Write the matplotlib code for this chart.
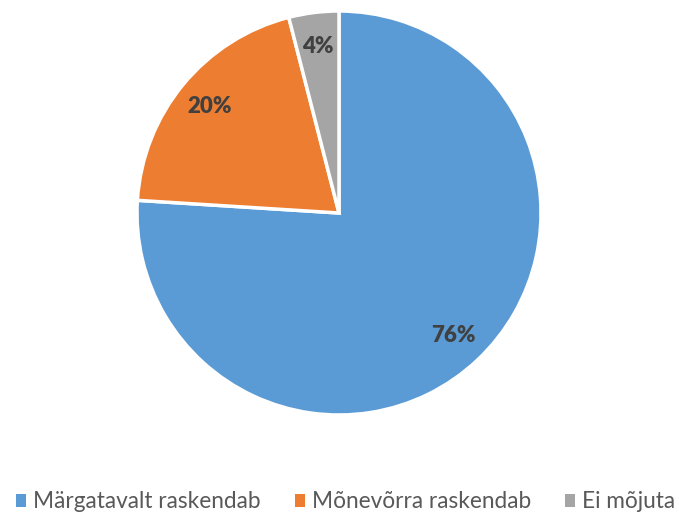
import matplotlib
matplotlib.use("Agg")
import matplotlib.pyplot as plt
from matplotlib.patches import Patch

categories = ["Märgatavalt raskendab", "Mõnevõrra raskendab", "Ei mõjuta"]
values = [76, 20, 4]
colors = ["#5B9BD5", "#ED7D31", "#A5A5A5"]

plt.rcParams['font.family'] = ['Lato', 'DejaVu Sans']

W, H = 679, 512
fig = plt.figure(figsize=(W/100, H/100), dpi=100)
cx, cy, r = 339, 213, 202
ax = fig.add_axes([(cx - r)/W, (H - cy - r)/H, 2*r/W, 2*r/H])
wedges, texts, autotexts = ax.pie(values, colors=colors, startangle=90, counterclock=False,
                                  autopct=lambda p: f"{p:.0f}%", pctdistance=0.83,
                                  radius=1.0,
                                  wedgeprops=dict(edgecolor="white", linewidth=2.5),
                                  textprops=dict(color="#404040", fontsize=16, fontweight="heavy"))
ax.set_xlim(-1, 1)
ax.set_ylim(-1, 1)
ax.set_aspect("equal")
ax.axis("off")

handles = [Patch(facecolor=c, edgecolor="none") for c in colors]
fig.legend(handles, categories, loc="center", bbox_to_anchor=(0.509, 1 - 502/H), ncol=3,
           frameon=False, fontsize=16.3, handlelength=0.45, handleheight=0.45,
           handletextpad=0.3, columnspacing=1.5, labelcolor="#595959",
           borderpad=0, borderaxespad=0)

fig.savefig("out.png", dpi=100)
